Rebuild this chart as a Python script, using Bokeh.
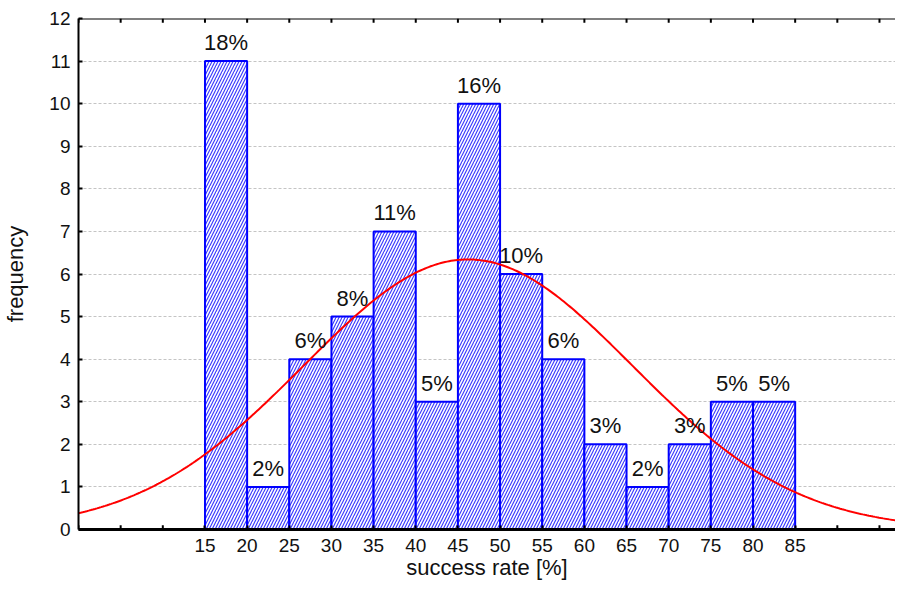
import numpy as np
from bokeh.plotting import figure
from bokeh.models import Range1d, FixedTicker, ColumnDataSource
from bokeh.embed import file_html
from bokeh.resources import INLINE
from bokeh.core.properties import value

# ---- data ----
bin_left = [15, 20, 25, 30, 35, 40, 45, 50, 55, 60, 65, 70, 75, 80]
bin_right = [20, 25, 30, 35, 40, 45, 50, 55, 60, 65, 70, 75, 80, 85]
frequency = [11, 1, 4, 5, 7, 3, 10, 6, 4, 2, 1, 2, 3, 3]
percent_labels = ["18%", "2%", "6%", "8%", "11%", "5%", "16%", "10%",
                  "6%", "3%", "2%", "3%", "5%", "5%"]
x_label_ticks = [15, 20, 25, 30, 35, 40, 45, 50, 55, 60, 65, 70, 75, 80, 85]
x_minor_marks = [0, 5, 10, 90, 95]
x_all_ticks = [0, 5, 10, 15, 20, 25, 30, 35, 40, 45, 50, 55, 60, 65, 70, 75, 80, 85, 90, 95]
y_ticks = [0, 1, 2, 3, 4, 5, 6, 7, 8, 9, 10, 11, 12]
x_title = "success rate [%]"
y_title = "frequency"
# fitted normal curve parameters
fit_mean = 46.2
fit_sd = 19.5
bin_width = 5
n_total = sum(frequency)

X_MAX = 96.9
Y_MAX = 12
TICK_LEN = 0.1  # inward tick length in data units (~4px)
FONT = "Liberation Sans"

p = figure(width=895, height=586, output_backend="svg", toolbar_location=None,
           x_range=Range1d(0, X_MAX), y_range=Range1d(0, Y_MAX),
           min_border_left=78, min_border_right=0, min_border_top=18,
           min_border_bottom=57)
p.outline_line_color = None
p.background_fill_color = "white"
p.border_fill_color = "white"

# bars
src = ColumnDataSource(dict(left=bin_left, right=bin_right, top=frequency,
                            cx=[(a + b) / 2 for a, b in zip(bin_left, bin_right)],
                            lab=percent_labels))
p.quad(left="left", right="right", bottom=0, top="top", source=src,
       fill_color="white", line_color="#0000ff", line_width=2,
       hatch_pattern="/", hatch_color="#3d3dff", hatch_scale=6, hatch_weight=1.2)

# normal curve
xs = np.linspace(0, X_MAX, 400)
ys = n_total * bin_width / (fit_sd * np.sqrt(2 * np.pi)) * np.exp(-0.5 * ((xs - fit_mean) / fit_sd) ** 2)
p.line(xs, ys, line_color="#ff0000", line_width=2)

# percentage labels
p.text(x="cx", y="top", text="lab", source=src, text_align="center",
       text_baseline="bottom", y_offset=-6, text_font=value(FONT),
       text_font_size="22px", text_color="#111111")

# inward ticks without labels (top border, and bottom ticks outside the labelled range)
p.segment(x0=x_all_ticks, y0=[Y_MAX] * len(x_all_ticks), x1=x_all_ticks,
          y1=[Y_MAX - TICK_LEN] * len(x_all_ticks), line_color="black", line_width=2)
p.segment(x0=x_minor_marks, y0=[0] * len(x_minor_marks), x1=x_minor_marks,
          y1=[TICK_LEN] * len(x_minor_marks), line_color="black", line_width=2)
# top border line
p.line(x=[0, X_MAX], y=[Y_MAX, Y_MAX], line_color="black", line_width=2)

# axes
p.xaxis.ticker = FixedTicker(ticks=x_label_ticks)
p.yaxis.ticker = FixedTicker(ticks=y_ticks)
for ax in (p.xaxis[0], p.yaxis[0]):
    ax.major_tick_in = 4
    ax.major_tick_out = 0
    ax.minor_tick_line_color = None
    ax.axis_line_width = 2
    ax.axis_line_color = "black"
    ax.major_tick_line_color = "black"
    ax.major_tick_line_width = 2
    ax.major_label_text_font = FONT
    ax.major_label_text_font_size = "19px"
    ax.major_label_text_color = "#111111"
    ax.axis_label_text_font = FONT
    ax.axis_label_text_font_style = "normal"
    ax.axis_label_text_color = "#111111"
p.xaxis.axis_line_width = 3
p.xaxis.axis_label = x_title
p.yaxis.axis_label = y_title
p.xaxis.axis_label_text_font_size = "22px"
p.yaxis.axis_label_text_font_size = "22px"
p.xaxis.major_label_standoff = 9
p.xaxis.axis_label_standoff = 0
p.yaxis.major_label_standoff = 8
p.yaxis.axis_label_standoff = 18

# grid
p.xgrid.visible = False
p.ygrid.grid_line_color = "#c4c4c4"
p.ygrid.grid_line_dash = "3 2"
p.ygrid.grid_line_width = 1

open("out.html", "w").write(file_html(p, INLINE))
